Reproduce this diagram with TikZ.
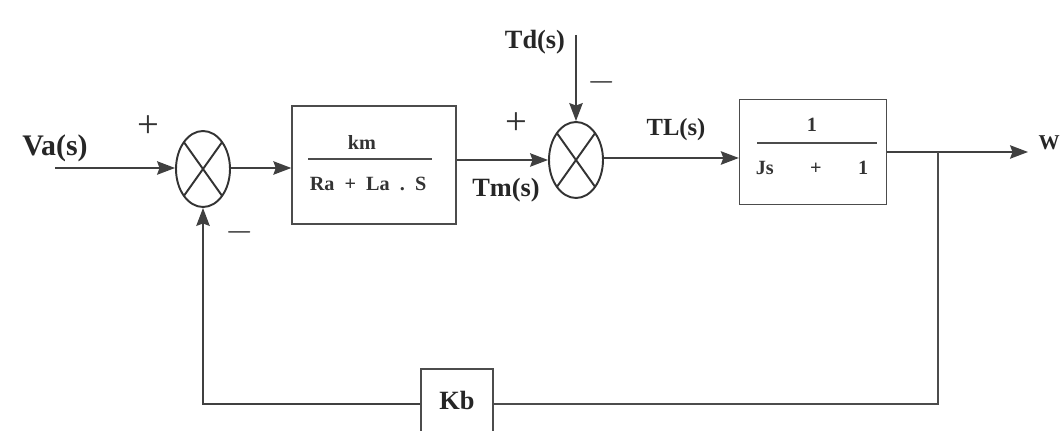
\documentclass[tikz,border=0pt]{standalone}
\usepackage{fontspec}
\setmainfont{Liberation Serif}
\usetikzlibrary{positioning, arrows.meta, calc, shapes.geometric}

\begin{document}
\begin{tikzpicture}[
  x=0.02cm, y=-0.02cm,
  font=\bfseries,
  % Estilos de bloques
  sumnode/.style={draw=black!80, ellipse, line width=1.1pt, minimum width=1.08cm, minimum height=1.52cm, inner sep=0pt,
    path picture={\draw[black!80, line width=1.1pt] (path picture bounding box.north west) -- (path picture bounding box.south east)
      (path picture bounding box.north east) -- (path picture bounding box.south west);}},
  block/.style={draw=black!70, rectangle, line width=0.8pt, inner sep=0pt},
  lbl/.style={font=\bfseries\fontsize{15}{18}\selectfont, text=black!85, inner sep=0pt},
  small/.style={font=\bfseries\fontsize{11.5}{14}\selectfont, text=black!80, inner sep=0pt},
  sign/.style={font=\fontsize{22}{24}\selectfont, text=black!80, inner sep=0pt},
  % Estilos de flechas
  line/.style={draw=black!75, line width=0.8pt, -{Stealth[length=0.36cm, width=0.27cm, inset=0.05cm]}},
  wire/.style={draw=black!70, line width=0.8pt}
]
  \useasboundingbox (0,0) rectangle (1064,431);

  % ==========================================
  % FORWARD PATH
  % ==========================================
  \node[sumnode] (sum1) at (203,169) {};
  \node[block, minimum width=3.28cm, minimum height=2.36cm] (blk1) at (374,165) {};
  \node[sumnode] (sum2) at (576,160) {};
  \node[block, minimum width=2.94cm, minimum height=2.1cm] (blk2) at (813,152) {};

  % Transfer functions
  \node[small] (km) at (362,142) {km};
  \node[small] (den1) at (368,184) {Ra\ \ +\ \ La\ \ .\ \ S};
  \draw[wire] (308,159) coordinate (f1a) -- (432,159) coordinate (f1b);
  \node[small] (one) at (812,125) {1};
  \node[small] (den2) at (812,168) {Js\hspace{1.8em}+\hspace{1.8em}1};
  \draw[wire] (757,143) coordinate (f2a) -- (877,143) coordinate (f2b);

  % Inputs and output
  \coordinate (vain) at (55,168);
  \coordinate (tdin) at (576,35);
  \coordinate (wout) at (1028,152);
  \coordinate (br) at (938,152);

  \draw[line] (vain) -- (sum1.west |- vain);
  \draw[line] (sum1.east |- vain) -- (blk1.west |- vain);
  \draw[line] (blk1.east |- sum2) -- (sum2.west);
  \draw[line] (tdin) -- (sum2.north);
  \draw[line] (sum2.east |- 0,158) -- (blk2.west |- 0,158);
  \draw[line] (blk2.east) -- (wout);

  % ==========================================
  % FEEDBACK (Kb)
  % ==========================================
  \node[block, minimum width=1.44cm, minimum height=1.4cm] (kb) at (457,404) {};
  \node[lbl] (kbtxt) at (457,400) {Kb};
  \draw[wire] (br) -- (br |- kb) -- (kb.east);
  \draw[line] (kb.west) -- (kb.west -| sum1) -- (sum1.south);

  % Labels
  \node[lbl, font=\bfseries\fontsize{17}{20}\selectfont] (va) at (55,148) {Va(s)};
  \node[lbl] (td) at (535,42) {Td(s)};
  \node[lbl] (tm) at (506,190) {Tm(s)};
  \node[lbl, font=\bfseries\fontsize{14}{17}\selectfont] (tl) at (676,130) {TL(s)};
  \node[lbl, font=\bfseries\fontsize{12}{14}\selectfont, anchor=east] (w) at (1060,143) {W};
  \node[sign] (p1) at (148,127) {+};
  \node[sign] (m1) at (240,232) {$-$};
  \node[sign] (p2) at (516,124) {+};
  \node[sign] (m2) at (602,82) {$-$};

\end{tikzpicture}
\end{document}
